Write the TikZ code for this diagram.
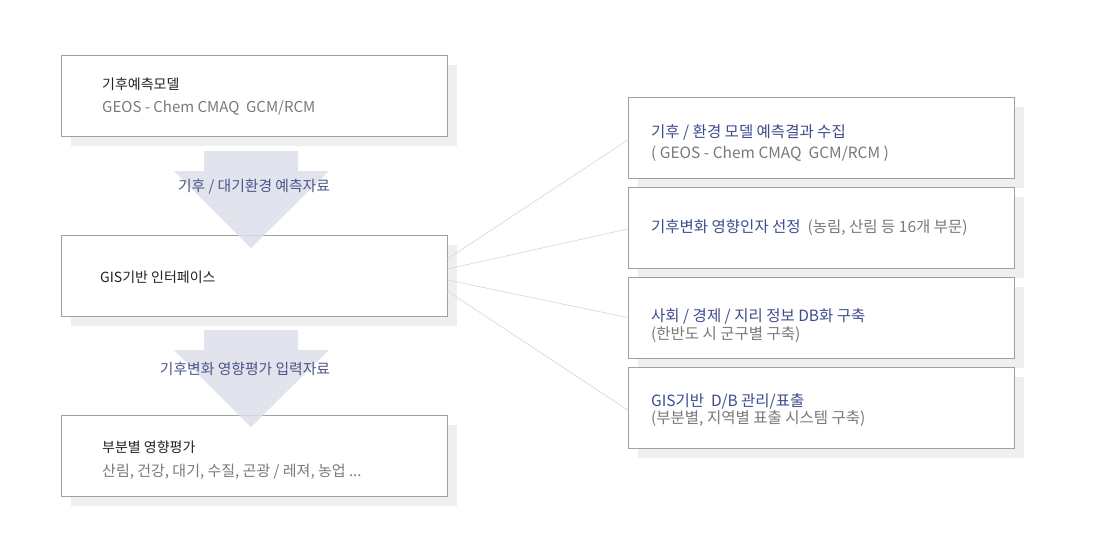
\documentclass[tikz,border=0pt]{standalone}
\usepackage{fontspec}
\setmainfont{Noto Sans CJK KR}
\usetikzlibrary{calc}
\definecolor{shadowc}{HTML}{EFEFEF}
\definecolor{borderc}{HTML}{A0A0A0}
\definecolor{arrowc}{HTML}{DCDEEA}
\definecolor{arrowtxt}{HTML}{4B5585}
\definecolor{bluetxt}{HTML}{3F4C8C}
\definecolor{graytxt}{HTML}{7A7A7A}
\definecolor{blacktxt}{HTML}{222222}
\definecolor{linkc}{HTML}{DADADA}
\tikzset{
  x=1pt, y=-1pt,
  box/.style={draw=borderc, line width=0.8pt, fill=white, minimum width=386pt, minimum height=81pt, inner sep=0pt},
  txt/.style={anchor=west, inner sep=0pt},
  title/.style={txt, text=blacktxt, font=\fontsize{14}{16}\selectfont},
  sub/.style={txt, text=graytxt, font=\fontsize{15}{17}\selectfont},
  blue/.style={txt, text=bluetxt, font=\fontsize{15.5}{17}\selectfont},
  rsub/.style={txt, text=graytxt, font=\fontsize{15.5}{17}\selectfont},
  arrtxt/.style={inner sep=0pt, text=arrowtxt, font=\fontsize{14.8}{17}\selectfont},
  link/.style={draw=linkc, line width=0.7pt},
  bigarrow/.style={fill=arrowc, fill opacity=0.85}
}
\begin{document}
\begin{tikzpicture}
\useasboundingbox (0,0) rectangle (1105,550);
% shadows
\foreach \cx/\cy in {254/95.5, 254/275.5, 254/455.5, 821/137.5, 821/227.5, 821/317.5, 821/407.5}{
  \fill[shadowc] (\cx-183,\cy-30.5) rectangle (\cx+203,\cy+50.5);
}
% left boxes
\node[box] (b1) at (254,95.5) {};
\node[box] (b2) at (254,275.5) {};
\node[box] (b3) at (254,455.5) {};
% right boxes
\node[box] (r1) at (821,137.5) {};
\node[box] (r2) at (821,227.5) {};
\node[box] (r3) at (821,317.5) {};
\node[box] (r4) at (821,407.5) {};
% big arrows
\fill[bigarrow] (204,151) -- (298,151) -- (298,171) -- (329,171) -- (251,248) -- (174,171) -- (204,171) -- cycle;
\fill[bigarrow] (204,330) -- (298,330) -- (298,350) -- (329,350) -- (251,427) -- (174,350) -- (204,350) -- cycle;
\node[arrtxt] (a1) at (254,187) {기후 / 대기환경 예측자료};
\node[arrtxt] (a2) at (245,369) {기후변화 영향평가 입력자료};
% left texts
\node[title] (t1) at (102,84) {기후예측모델};
\node[sub] (s1) at (102,108) {GEOS - Chem CMAQ~~GCM/RCM};
\node[title] (t2) at (100,277) {GIS기반 인터페이스};
\node[title] (t3) at (102,447) {부분별 영향평가};
\node[sub] (s3) at (102,472) {산림, 건강, 대기, 수질, 곤광 / 레져, 농업 ...};
% right texts
\node[blue] (u1) at (651,132) {기후 / 환경 모델 예측결과 수집};
\node[rsub] (v1) at (651,154) {( GEOS - Chem CMAQ~~GCM/RCM )};
\node[blue] (u2) at (651,228) {기후변화 영향인자 선정~~\textcolor{graytxt}{(농림, 산림 등 16개 부문)}};
\node[blue] (u3) at (651,316) {사회 / 경제 / 지리 정보 DB화 구축};
\node[rsub] (v3) at (651,335) {(한반도 시 군구별 구축)};
\node[blue] (u4) at (651,401) {GIS기반~~D/B 관리/표출};
\node[rsub] (v4) at (651,419) {(부분별, 지역별 표출 시스템 구축)};
% links
\coordinate (p1) at ($(b2.east)+(0,-16.5)$);
\coordinate (p2) at ($(b2.east)+(0,-6.5)$);
\coordinate (p3) at ($(b2.east)+(0,4.5)$);
\coordinate (p4) at ($(b2.east)+(0,15.5)$);
\draw[link] (p1) -- ($(r1.west)+(0,2.5)$);
\draw[link] (p2) -- ($(r2.west)+(0,1.5)$);
\draw[link] (p3) -- (r3.west);
\draw[link] (p4) -- ($(r4.west)+(0,2.5)$);
\end{tikzpicture}
\end{document}
